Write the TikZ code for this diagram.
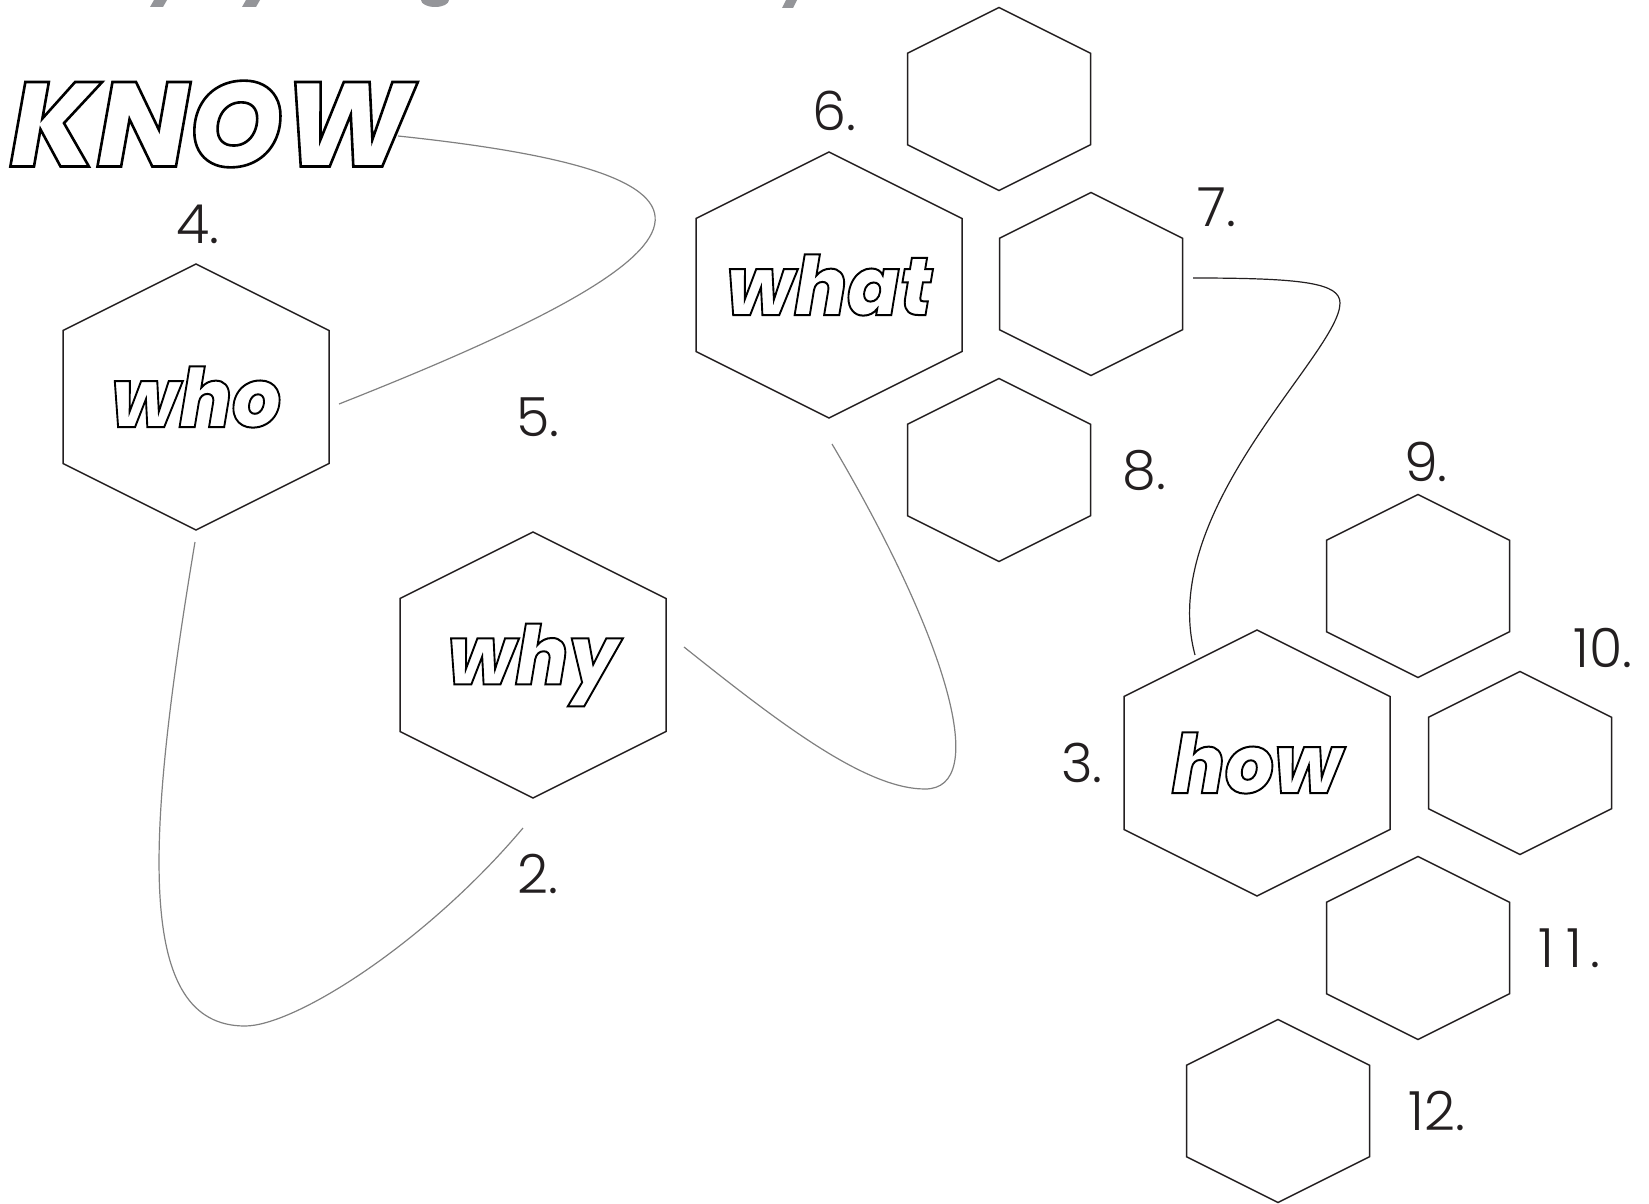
\documentclass[tikz,border=0pt]{standalone}
\usepackage{fontspec}
\usepackage{xcolor}
\usepackage{tikz}
\usetikzlibrary{shapes.geometric,positioning}
\newfontfamily\wordFont{Poppins ExtraBold Italic}
\newfontfamily\knowFont{Poppins ExtraBold Italic}
\newfontfamily\numFont{Poppins Light}
\definecolor{inkBlack}{RGB}{35,31,32}
\definecolor{linkGray}{RGB}{128,128,128}
\definecolor{titleGray}{RGB}{148,149,153}
\newcommand{\outlineWord}[2][1]{\special{pdf:literal direct 1 Tr #1 w}#2\special{pdf:literal direct 0 Tr}}
\tikzset{
  hexBig/.style={
    regular polygon, regular polygon sides=6, shape border rotate=90,
    draw=inkBlack, line width=0.75pt, inner sep=0pt, minimum size=133pt,
    xscale=1.1547
  },
  hexSmall/.style={hexBig, minimum size=91.5pt},
  wordText/.style={inner sep=0pt, xscale=0.94, font=\wordFont\fontsize{41}{41}\selectfont},
  knowText/.style={inner sep=0pt, font=\knowFont\fontsize{60}{60}\selectfont},
  numText/.style={inner sep=0pt, text=inkBlack, font=\numFont\fontsize{27}{27}\selectfont},
  linkLine/.style={draw=linkGray, line width=0.6pt},
  blackLink/.style={draw=inkBlack, line width=0.6pt}
}

\begin{document}
\begin{tikzpicture}[x=0.5pt, y=-0.5pt]
  \useasboundingbox (0,0) rectangle (1649,1204);
  % cut-off title
  \fill[titleGray] (154,0) -- (167,0) -- (163,7) -- (150,7) -- cycle;
  \fill[titleGray] (246,0) -- (260,0) -- (256,7) -- (242,7) -- cycle;
  \fill[titleGray] (421,0) arc[start angle=180, end angle=360, x radius=7pt, y radius=3.5pt] -- cycle;
  \fill[titleGray] (786,0) -- (797,0) -- (793,8) -- (782,8) -- cycle;

  \node[knowText] (know) at (211,124) {\outlineWord[1.3]{KNOW}};

  \node[hexBig] (hWho) at (196,397) {};
  \node[wordText] (who) at (hWho.center) {\outlineWord{who}};
  \node[hexBig] (hWhat) at (829,285) {};
  \node[wordText] (what) at (hWhat.center) {\outlineWord{what}};
  \node[hexBig] (hWhy) at (533,665) {};
  \node[wordText] (why) at (hWhy.center) {\outlineWord{why}};
  \node[hexBig] (hHow) at (1257,763) {};
  \node[wordText] (how) at (hHow.center) {\outlineWord{how}};

  \node[hexSmall] (h6) at (999,99) {};
  \node[hexSmall] (h7) at (1091,284) {};
  \node[hexSmall] (h8) at (999,470) {};
  \node[hexSmall] (h9) at (1418,586) {};
  \node[hexSmall] (h10) at (1520,763) {};
  \node[hexSmall] (h11) at (1418,948) {};
  \node[hexSmall] (h12) at (1278,1111) {};

  \node[numText] (n2) at (538,874) {2.};
  \node[numText, left=10pt of hHow] (n3) {3.};
  \node[numText, above=9.5pt of hWho, xshift=1pt] (n4) {4.};
  \node[numText] (n5) at (538,417) {5.};
  \node[numText, above=10pt of hWhat, xshift=2.5pt] (n6) {6.};
  \node[numText] (n7) at (1217,207) {7.};
  \node[numText, right=15.5pt of h8] (n8) {8.};
  \node[numText, above=5.5pt of h9, xshift=4pt] (n9) {9.};
  \node[numText] (n10) at (1603,648) {10.};
  \node[numText, right=14pt of h11] (n11) {1\kern6pt1\kern4pt.};
  \node[numText, right=19pt of h12] (n12) {12.};

  \coordinate (knowEnd) at (398,136);
  \coordinate (whoSide) at (339,404);
  \coordinate (whoFoot) at (195,542);
  \coordinate (whyFoot) at (523,828);
  \coordinate (whySide) at (684,647);
  \coordinate (whatFoot) at (832,444);
  \coordinate (sevenSide) at (1193,278);
  \coordinate (howTop) at (1195,655);

  \draw[linkLine] (knowEnd) .. controls (778,176) and (719,254) .. (whoSide);
  \draw[linkLine] (whoFoot) .. controls (145,842) and (135,1026) .. (245,1026)
    .. controls (295,1026) and (426,943) .. (whyFoot);
  \draw[linkLine] (whySide) .. controls (778,722) and (865,789) .. (925,789)
    .. controls (990,789) and (949,642) .. (whatFoot);
  \draw[blackLink] (sevenSide) .. controls (1303,278) and (1340,283) .. (1340,303)
    .. controls (1340,353) and (1156,510) .. (howTop);
\end{tikzpicture}
\end{document}
